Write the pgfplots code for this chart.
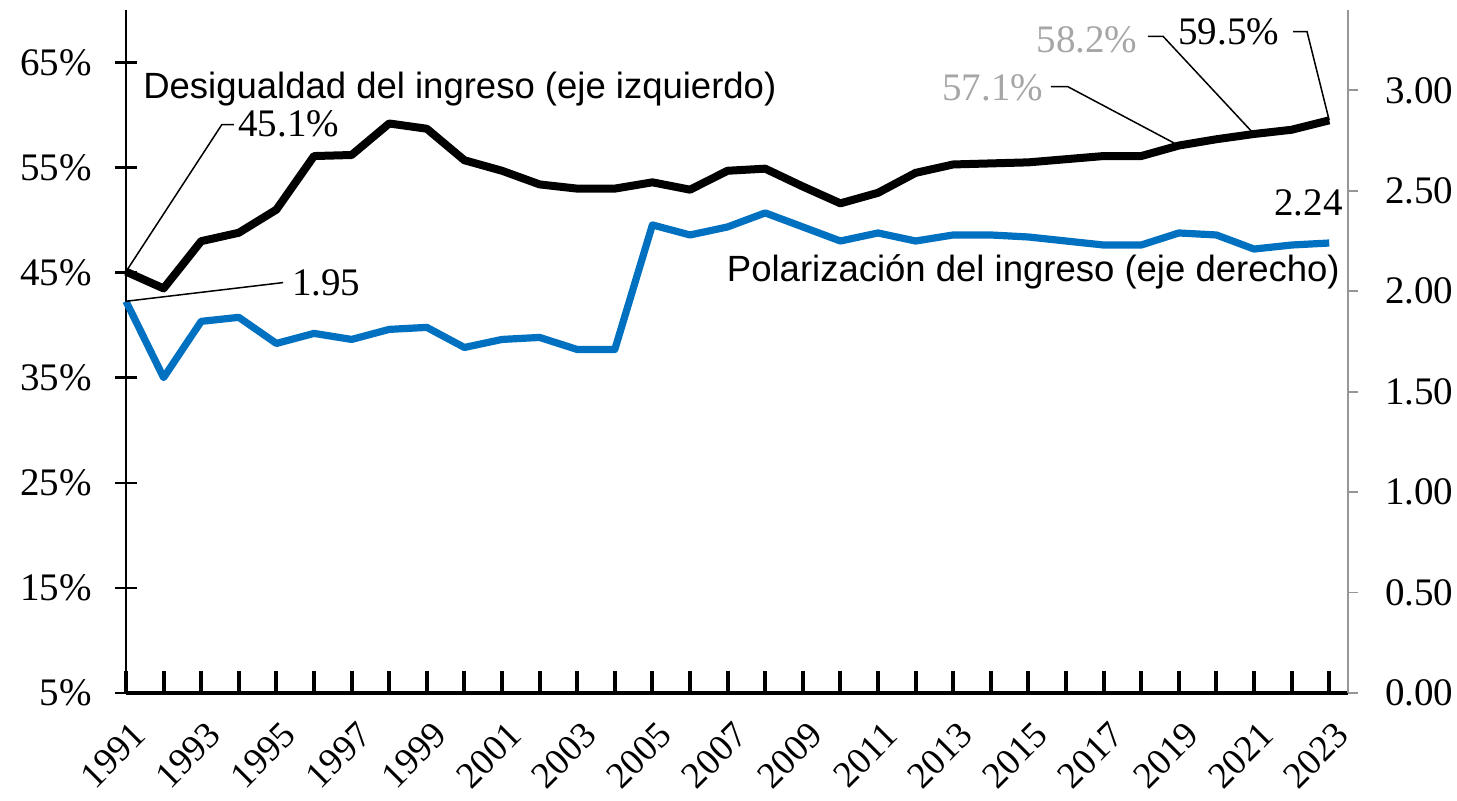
\documentclass[border=0pt]{standalone}
\usepackage{fontspec}
\setmainfont{Liberation Serif}
\newfontfamily\sansf{Liberation Sans}
\usepackage{pgfplots}
\usepackage{pgfplotstable}
\pgfplotsset{compat=1.18}
\definecolor{polblue}{RGB}{0,112,192}
\definecolor{lblgray}{RGB}{166,166,166}
\definecolor{axgray}{RGB}{150,150,150}

% Desigualdad del ingreso (eje izquierdo), %
\pgfplotstableread{
year ineq
1991 45.1
1992 43.5
1993 48.0
1994 48.8
1995 51.0
1996 56.1
1997 56.2
1998 59.2
1999 58.7
2000 55.7
2001 54.7
2002 53.4
2003 53.0
2004 53.0
2005 53.6
2006 52.9
2007 54.7
2008 54.9
2009 53.2
2010 51.6
2011 52.6
2012 54.5
2013 55.3
2014 55.4
2015 55.5
2016 55.8
2017 56.1
2018 56.1
2019 57.1
2020 57.7
2021 58.2
2022 58.6
2023 59.5
}\ineqtable

% Polarizacion del ingreso (eje derecho)
\pgfplotstableread{
year pol
1991 1.95
1992 1.57
1993 1.85
1994 1.87
1995 1.74
1996 1.79
1997 1.76
1998 1.81
1999 1.82
2000 1.72
2001 1.76
2002 1.77
2003 1.71
2004 1.71
2005 2.33
2006 2.28
2007 2.32
2008 2.39
2009 2.32
2010 2.25
2011 2.29
2012 2.25
2013 2.28
2014 2.28
2015 2.27
2016 2.25
2017 2.23
2018 2.23
2019 2.29
2020 2.28
2021 2.21
2022 2.23
2023 2.24
}\poltable

\pgfplotsset{
  base/.style={
    at={(0,0)}, anchor=south west,
    scale only axis, width=611pt, height=341.5pt,
    xmin=1991, xmax=2023.5,
    clip=false,
    tick label style={font=\fontsize{19.5}{23}\selectfont},
  },
}

\begin{document}
\begin{tikzpicture}
\path[use as bounding box] (-63pt,-54pt) rectangle (665.5pt,346.5pt);

\begin{axis}[
  base,
  ymin=5, ymax=70,
  axis x line*=bottom, axis y line*=left,
  x axis line style={line width=2pt},
  y axis line style={line width=1.3pt},
  xtick align=inside, ytick align=center,
  major tick length=11pt, minor tick length=11pt,
  xtick={1991,1993,1995,1997,1999,2001,2003,2005,2007,2009,2011,2013,2015,2017,2019,2021,2023},
  xticklabels={1991,1993,1995,1997,1999,2001,2003,2005,2007,2009,2011,2013,2015,2017,2019,2021,2023},
  minor xtick={1992,1994,1996,1998,2000,2002,2004,2006,2008,2010,2012,2014,2016,2018,2020,2022},
  xtick style={line width=2pt, black},
  minor x tick style={line width=2pt, black},
  xticklabel style={font=\fontsize{18.5}{22}\selectfont, rotate=45, anchor=north east, inner sep=0pt, xshift=-8pt, yshift=-11pt},
  ytick={5,15,25,35,45,55,65},
  yticklabels={5\%,15\%,25\%,35\%,45\%,55\%,65\%},
  ytick style={line width=1.3pt, black},
  yticklabel style={anchor=east, xshift=-8pt},
]
\addplot[black, line width=4pt, line join=round] table[x=year, y=ineq] {\ineqtable};

\node[font=\sansf\fontsize{18.25}{22}\selectfont, anchor=west, inner sep=0pt]
  at (axis cs:1991.45,62.5) {Desigualdad del ingreso (eje izquierdo)};

% 45.1%
\draw[line width=0.75pt] (axis cs:1991,45.1) -- (axis cs:1993.55,59.1) -- (axis cs:1993.87,59.1);
\node[anchor=west, inner sep=0pt, font=\fontsize{19.5}{23}\selectfont] at (axis cs:1993.98,59.2) {45.1\%};

% 57.1%
\draw[line width=0.75pt] (axis cs:2019,57.1) -- (axis cs:2016.05,62.7) -- (axis cs:2015.6,62.7);
\node[anchor=east, inner sep=0pt, text=lblgray, font=\fontsize{19.5}{23}\selectfont] at (axis cs:2015.4,62.6) {57.1\%};

% 58.2%
\draw[line width=0.75pt] (axis cs:2021,58.2) -- (axis cs:2018.58,67.5) -- (axis cs:2018.18,67.5);
\node[anchor=east, inner sep=0pt, text=lblgray, font=\fontsize{19.5}{23}\selectfont] at (axis cs:2017.91,67.2) {58.2\%};

% 59.5%
\draw[line width=0.75pt] (axis cs:2023,59.5) -- (axis cs:2022.41,67.95) -- (axis cs:2022.04,67.95);
\node[anchor=west, inner sep=0pt, font=\fontsize{19.5}{23}\selectfont] at (axis cs:2018.98,67.95) {59.5\%};
\end{axis}

\begin{axis}[
  base,
  ymin=0, ymax=3.4,
  axis x line=none, axis y line*=right,
  y axis line style={line width=0.9pt, axgray},
  ytick align=outside, major tick length=5pt,
  ytick={0,0.5,1,1.5,2,2.5,3},
  yticklabels={0.00,0.50,1.00,1.50,2.00,2.50,3.00},
  ytick style={line width=0.9pt, axgray},
  yticklabel style={anchor=west, xshift=10pt},
]
\addplot[polblue, line width=3.6pt, line join=round] table[x=year, y=pol] {\poltable};

\node[anchor=east, inner sep=0pt, font=\sansf\fontsize{18.25}{22}\selectfont]
  at (axis cs:2023.29,2.098) {Polarización del ingreso (eje derecho)};

% 1.95
\draw[line width=0.75pt] (axis cs:1991,1.95) -- (axis cs:1995.18,2.043);
\node[anchor=west, inner sep=0pt, font=\fontsize{19.5}{23}\selectfont] at (axis cs:1995.41,2.04) {1.95};

% 2.24
\node[anchor=east, inner sep=0pt, font=\fontsize{19.5}{23}\selectfont] at (axis cs:2023.37,2.44) {2.24};
\end{axis}
\end{tikzpicture}
\end{document}
